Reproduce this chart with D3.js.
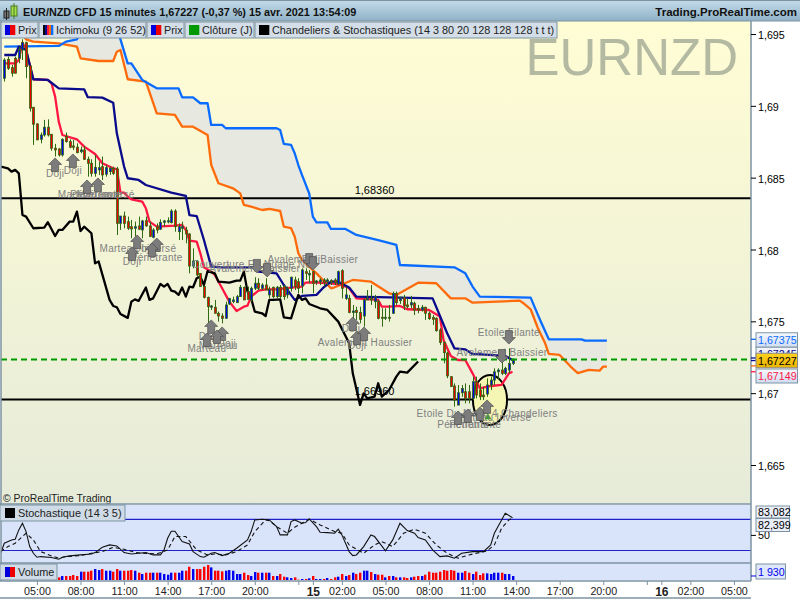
<!DOCTYPE html>
<html><head><meta charset="utf-8">
<style>html,body{margin:0;padding:0;background:#fff}svg{display:block}text{font-family:"Liberation Sans",Arial,sans-serif}</style>
<script src="https://cdnjs.cloudflare.com/ajax/libs/d3/7.8.5/d3.min.js"></script>
</head><body><svg id="c" width="800" height="600"></svg>
<script>
// ---- DATA ----
const candleOpen=[1.69192,1.69324,1.69266,1.69331,1.69331,1.69389,1.6944,1.69278,1.6899,1.68874,1.68767,1.68797,1.68851,1.68802,1.68705,1.687,1.68658,1.68786,1.68751,1.68721,1.68712,1.68681,1.68693,1.68628,1.686,1.6853,1.68554,1.68577,1.68524,1.68542,1.68565,1.68561,1.68182,1.68233,1.68194,1.68159,1.68148,1.68164,1.68136,1.68201,1.68164,1.68085,1.68159,1.68141,1.68189,1.68192,1.68187,1.68268,1.68124,1.68148,1.68136,1.68108,1.67885,1.67916,1.67834,1.67742,1.67667,1.67598,1.67598,1.67556,1.67537,1.67521,1.67621,1.67637,1.6763,1.67672,1.67737,1.67707,1.67649,1.6773,1.67765,1.6773,1.67753,1.67684,1.67737,1.67672,1.67737,1.67742,1.67684,1.6773,1.67788,1.67776,1.67746,1.67846,1.67823,1.67846,1.67772,1.67776,1.67788,1.67776,1.67783,1.67788,1.6776,1.67853,1.6766,1.6766,1.67561,1.67575,1.67561,1.67537,1.67649,1.6766,1.67637,1.67637,1.67528,1.67521,1.67528,1.67556,1.67695,1.67644,1.67665,1.67614,1.67614,1.67626,1.67591,1.67579,1.67598,1.67556,1.67526,1.67521,1.6744,1.67352,1.67278,1.67115,1.6705,1.66917,1.67003,1.6701,1.6701,1.66964,1.6708,1.67022,1.66987,1.66994,1.67057,1.67091,1.67149,1.67161,1.67138,1.67161,1.67207];
const candleClose=[1.69319,1.69261,1.69227,1.69227,1.69389,1.6944,1.69273,1.68983,1.68872,1.68763,1.68797,1.68851,1.68797,1.68705,1.68693,1.68658,1.68767,1.68751,1.68712,1.68712,1.68674,1.68693,1.68628,1.686,1.6853,1.68572,1.6857,1.68519,1.6857,1.68565,1.6853,1.68182,1.68233,1.68182,1.68148,1.68143,1.68159,1.68141,1.68199,1.68164,1.6809,1.68136,1.68136,1.68189,1.68199,1.68201,1.68268,1.68159,1.68159,1.68159,1.68108,1.67885,1.6792,1.67823,1.67742,1.67667,1.67602,1.67607,1.67556,1.67537,1.67521,1.67614,1.6766,1.67649,1.67672,1.67737,1.67649,1.67653,1.6773,1.67765,1.6773,1.67753,1.67718,1.67723,1.67672,1.67737,1.67672,1.67672,1.6773,1.67807,1.67742,1.6773,1.67858,1.67834,1.67834,1.67765,1.67781,1.67788,1.67769,1.67788,1.67774,1.67769,1.67846,1.6773,1.67684,1.67561,1.67572,1.67561,1.67514,1.67649,1.6766,1.67649,1.67672,1.67521,1.67521,1.67528,1.67521,1.67695,1.6763,1.67663,1.67607,1.67602,1.6763,1.67579,1.67579,1.67598,1.67556,1.67519,1.67514,1.67435,1.67352,1.67282,1.6712,1.67046,1.66952,1.67003,1.67033,1.66964,1.66964,1.6708,1.66987,1.66975,1.66975,1.67057,1.67091,1.67149,1.67161,1.67138,1.67173,1.67207,1.67227];
const candleHigh=[1.69331,1.69343,1.69285,1.69343,1.69412,1.69463,1.69447,1.69278,1.6899,1.68879,1.68814,1.68902,1.68906,1.68802,1.68735,1.68705,1.68774,1.68814,1.68767,1.68763,1.68739,1.68716,1.68721,1.68647,1.68628,1.68658,1.68612,1.68647,1.68589,1.68577,1.68577,1.68575,1.68233,1.68264,1.68229,1.68206,1.68194,1.68229,1.68206,1.68229,1.68194,1.68148,1.68182,1.6821,1.68206,1.68224,1.6828,1.6828,1.68182,1.68194,1.68159,1.68113,1.68008,1.67927,1.67834,1.67746,1.67672,1.67614,1.67649,1.67568,1.67556,1.67637,1.6766,1.67672,1.67684,1.67753,1.67742,1.67742,1.67742,1.67807,1.678,1.67765,1.678,1.67742,1.67742,1.67746,1.67753,1.67753,1.67742,1.67811,1.67811,1.678,1.67869,1.67869,1.67858,1.67846,1.67788,1.678,1.678,1.678,1.67793,1.678,1.67853,1.67862,1.67742,1.67684,1.67614,1.67602,1.67602,1.6766,1.67718,1.67753,1.67684,1.67649,1.67591,1.67591,1.67614,1.67707,1.67707,1.67672,1.67684,1.6766,1.67677,1.67637,1.67614,1.67614,1.67602,1.67568,1.67544,1.67528,1.67452,1.67359,1.67289,1.67115,1.67068,1.67057,1.67057,1.67068,1.67057,1.67115,1.67115,1.67068,1.67045,1.67103,1.67115,1.67173,1.67173,1.67254,1.67184,1.67312,1.67242];
const candleLow=[1.69169,1.6925,1.69203,1.69227,1.69296,1.69319,1.69192,1.6896,1.68728,1.68763,1.68739,1.68786,1.68786,1.68688,1.68647,1.68647,1.68647,1.68744,1.68705,1.68693,1.6867,1.6867,1.68623,1.68507,1.68507,1.68507,1.68519,1.68484,1.68507,1.68519,1.68519,1.68101,1.68136,1.68148,1.68136,1.68078,1.6809,1.68136,1.68078,1.68159,1.6809,1.68078,1.68113,1.68136,1.68159,1.68182,1.68182,1.68124,1.68066,1.68066,1.68043,1.67834,1.67869,1.67811,1.67742,1.6766,1.67486,1.67579,1.67556,1.67498,1.67486,1.67521,1.67614,1.67626,1.6763,1.67672,1.67649,1.6766,1.67637,1.67718,1.67718,1.67718,1.67718,1.6766,1.6766,1.6766,1.6766,1.67649,1.6766,1.67707,1.67718,1.67695,1.67695,1.67788,1.67765,1.67695,1.67753,1.67753,1.67742,1.67753,1.67753,1.67753,1.67753,1.6766,1.67649,1.67556,1.67521,1.6751,1.67486,1.67463,1.67649,1.67614,1.67591,1.67514,1.67463,1.6751,1.67498,1.67551,1.67614,1.67621,1.67579,1.67591,1.67591,1.67544,1.67556,1.67568,1.6751,1.6751,1.67475,1.67428,1.67336,1.67208,1.67104,1.67046,1.66906,1.66917,1.66975,1.66929,1.66929,1.66952,1.66964,1.66952,1.66952,1.66975,1.67022,1.67057,1.67091,1.67126,1.67126,1.67138,1.67196];
const volumeValues=[2000,2400,2400,1900,2200,2000,1800,3000,3400,3000,2400,2000,2200,1900,1600,1280,1920,1920,1920,2400,1920,4000,4000,4000,4480,5280,4800,5280,4480,4480,4000,5280,4480,4480,4480,4800,4480,3520,2880,3520,3520,3520,3520,3520,2880,2560,3520,3520,3520,4480,4480,6400,5280,5280,5280,6400,7200,6080,4480,4480,4160,4480,4800,4480,2880,2880,3520,2400,1920,3840,3520,3520,3520,3520,1920,1920,2880,1600,1280,960,1280,160,480,480,800,1920,480,480,480,960,480,1280,1600,2880,1920,2400,3520,2880,3520,4480,4480,3840,2880,2560,2560,1280,1920,1920,1280,1280,1280,960,1280,1600,1920,1920,2560,4000,3520,3520,4000,4800,4480,4800,4480,3520,3520,4320,3520,2880,4000,2400,3200,3200,2880,3520,3520,3520,2880,2880,1930];

const tenkanBars=[0,3,4,5,6,8,12,13,14,15,16,20,22,25,27,30,31,32,33,34,35,38,39,40,42,47,49,50,51,53,54,55,57,58,60,62,64,66,67,68,70,72,75,79,82,83,85,90,93,95,97,103,104,106,109,111,117,120,121,123,125,127,129,131,134,137,139,140];
const tenkanValues=[1.69296,1.69296,1.69319,1.6944,1.69389,1.69185,1.6918,1.69157,1.69064,1.6889,1.68797,1.68767,1.68716,1.68665,1.686,1.68565,1.6856,1.68396,1.68396,1.68368,1.68349,1.68333,1.68287,1.68194,1.68159,1.68166,1.68171,1.68136,1.68062,1.68055,1.67974,1.67876,1.67846,1.67823,1.6773,1.67637,1.67572,1.67602,1.67609,1.67672,1.67714,1.67723,1.67723,1.67735,1.67742,1.6777,1.67772,1.67765,1.67753,1.6773,1.6766,1.67649,1.67602,1.67602,1.67607,1.67584,1.67579,1.67533,1.6737,1.67259,1.67231,1.67231,1.67138,1.67034,1.6705,1.67057,1.67138,1.67149];
const kijunBars=[0,3,4,6,8,12,15,22,23,27,30,31,33,34,37,39,46,50,51,53,55,57,60,69,70,75,77,80,82,86,88,90,92,95,97,118,122,124,127,129,138,140];
const kijunValues=[1.69354,1.69354,1.69412,1.69389,1.69185,1.6918,1.69122,1.69115,1.6906,1.69057,1.69022,1.68809,1.68577,1.68496,1.68484,1.68449,1.68396,1.68373,1.6824,1.68233,1.68066,1.67881,1.67876,1.67876,1.67846,1.67834,1.67753,1.67649,1.67677,1.67684,1.67737,1.67776,1.67776,1.67735,1.67672,1.6766,1.67417,1.67312,1.67305,1.67273,1.67259,1.67231];
const senkouABars=[5,6,8,15,20,21,26,30,31,32,34,39,42,47,49,52,56,57,59,63,65,66,68,71,73,76,77,79,80,81,82,86,90,91,96,101,106,108,114,119,123,127,129,142,143,145,147,149,150,153,156,158,161,164,165,166];
const senkouAValues=[1.695,1.69463,1.69447,1.69435,1.69412,1.69331,1.69312,1.69312,1.69377,1.69389,1.69185,1.69169,1.68948,1.68937,1.68855,1.68855,1.68797,1.68589,1.68461,1.68426,1.68391,1.6831,1.68298,1.68275,1.68282,1.68268,1.68159,1.68148,1.6809,1.67974,1.67927,1.67834,1.6773,1.67737,1.67788,1.67776,1.67695,1.67684,1.67769,1.67765,1.6766,1.6766,1.6763,1.67644,1.67626,1.67584,1.67452,1.67347,1.67273,1.67266,1.67185,1.67139,1.67162,1.67157,1.67185,1.67185];
const senkouBBars=[0,15,17,20,22,31,32,34,35,38,42,48,49,52,54,56,57,60,61,68,75,76,77,79,80,81,82,84,85,86,89,90,94,97,103,108,109,124,127,129,131,145,147,148,150,159,160,166];
const senkouBValues=[1.69412,1.69417,1.69447,1.69463,1.6955,1.6955,1.69463,1.69296,1.69296,1.6918,1.69122,1.69122,1.69059,1.69059,1.69018,1.69018,1.68867,1.68867,1.68844,1.68844,1.68844,1.68832,1.68735,1.68728,1.6867,1.68588,1.68519,1.6839,1.68229,1.68189,1.68189,1.68143,1.68143,1.68101,1.68066,1.68032,1.67892,1.67876,1.67834,1.67742,1.67672,1.67665,1.67545,1.67487,1.67375,1.67375,1.67366,1.67366];
const chikouBars=[-1,1,2,3,4,5,6,8,11,12,14,15,16,18,19,20,21,22,24,25,26,29,30,31,32,34,35,36,37,39,40,41,43,44,45,46,47,48,49,50,51,52,53,54,55,56,58,59,62,64,65,66,67,68,69,71,72,73,74,76,77,79,81,82,83,84,87,89,92,95,96,98,99,100,102,103,104,106,108,109,111,114];
const chikouValues=[1.68577,1.68565,1.68542,1.68554,1.6853,1.68240,1.68229,1.68148,1.68152,1.6819,1.68094,1.68136,1.68136,1.68194,1.68194,1.68264,1.68129,1.68159,1.68113,1.67904,1.67916,1.67649,1.67607,1.67598,1.67551,1.67524,1.67637,1.67653,1.67642,1.67735,1.67649,1.6766,1.6776,1.67742,1.6776,1.67714,1.67707,1.67684,1.67735,1.67672,1.67742,1.67737,1.678,1.67811,1.67753,1.6785,1.67834,1.67776,1.67769,1.67783,1.67783,1.67846,1.67707,1.6766,1.67568,1.67556,1.67537,1.67649,1.67649,1.67653,1.67528,1.67521,1.67684,1.67649,1.6766,1.67621,1.67591,1.67579,1.67498,1.67347,1.67138,1.66918,1.66999,1.66964,1.66976,1.67069,1.66976,1.67022,1.67115,1.6715,1.67143,1.6722];

const stochKBars=[-1,0,2,3,4,5,6,7,8,9,10,13,15,16,18,21,24,25,27,29,31,33,35,37,39,41,43,44,45,46,47,49,51,52,54,55,57,58,60,62,64,67,68,69,71,73,75,76,78,79,80,82,83,84,86,87,89,91,92,93,95,96,97,99,101,102,105,107,109,111,113,114,116,118,120,122,124,126,129,132,134,135,137,138,140];
const stochKValues=[14.7,34,40.3,41.6,59.6,72.4,56.4,27.5,14.7,7,8.3,6.4,3.2,7,9.6,11.5,13.4,16,26.3,30.7,28.8,16,13.4,14.7,16,11.5,11.5,21.1,43.5,57,57,37.1,32.7,17.9,8.3,7,14.7,16,10.2,14.7,24.3,40.4,56.4,78.8,80.1,78.8,66,50,50,75.6,78.8,72.4,73.7,80.7,66,55.1,54.4,53.2,60.9,50,17.9,10.2,11.5,27.5,50,46.8,19.2,40.4,72.4,58.3,53.2,44.8,40.4,21.1,8.3,9.6,5.1,14.7,17.9,17.9,30.7,53.2,78.8,91.6,83.08];
const stochDBars=[-1,1,3,6,8,10,13,15,17,21,24,27,30,33,36,38,42,45,47,50,53,56,58,61,64,67,69,72,73,75,78,80,82,84,87,91,93,95,99,102,104,107,110,113,116,119,122,125,128,133,135,137,139,140];
const stochDValues=[17.9,27.5,34,53.2,40.4,17.9,9.6,5.1,8.3,10.2,14.7,17.9,26.3,22.4,16.6,14.7,13.4,21.1,46.8,46.8,21.1,11.5,13.4,11.5,17.9,30.7,56.4,78.8,77.5,66,53.2,64.7,72.4,80.1,69.2,56.4,53.2,30.7,14.7,30.7,37.1,27.5,53.2,60.9,53.2,30.7,14.7,5.1,11.5,19.2,30.7,62.8,78.8,82.4];

const priceTicks=[1.695,1.69,1.685,1.68,1.675,1.67,1.665];
const priceTickLabels=["1,695","1,69","1,685","1,68","1,675","1,67","1,665"];
const timeTickBars=[9,21,33,45,57,69,81,85,93,105,117,129,141,153,165,177,181,189,201];
const timeTickLabels=["05:00","08:00","11:00","14:00","17:00","20:00","","15","02:00","05:00","08:00","11:00","14:00","17:00","20:00","","16","02:00","05:00"];
const levelValues=[1.6836,1.6696];
const levelLabels=["1,68360","1,66960"];
const levelLabelBar=102;
const lastPrice=1.67227;

const arrowUpBars=[14,18.9,22.8,25.8,36.6,35.2,42,40.7,57,55.8,60,58.6,96,97.2,99.1,125,127.7,131,133];
const arrowUpPrices=[1.68637,1.68665,1.68484,1.68498,1.68101,1.68018,1.6808,1.68045,1.6751,1.67419,1.67461,1.6744,1.6753,1.67433,1.67461,1.66876,1.6689,1.66904,1.66953];
const arrowDownBars=[69.6,72.4,84,85,139,137.1];
const arrowDownPrices=[1.67837,1.67809,1.67878,1.67857,1.67342,1.6721];
const noteBars=[14,18.9,25.3,25.3,25.3,36.8,38.2,35.2,42,69,69,85,84.5,55.8,58.9,56.1,61.3,95.5,99.4,97.2,139,137.1,133,134.6,126.4,129.7];
const notePrices=[1.68526,1.68553,1.6838,1.6838,1.6838,1.68004,1.68004,1.67913,1.67941,1.67899,1.67871,1.67927,1.67927,1.67308,1.67335,1.67391,1.67349,1.67447,1.67356,1.67335,1.67419,1.6728,1.66855,1.66834,1.66779,1.66779];
const noteTexts=["Doji","Doji","Marteau Inversé","Pénétrante","Marteau","Marteau Inversé","Doji","Doji","Pénétrante","Couverture En Nuage Noir","Avalement Baissier","Avalement Baissier","Doji","Marteau","Marteau","Doji","Doji","Doji","Avalement Haussier","Doji","Etoile Filante","Avalement Baissier","Etoile Du Matin 4 Chandeliers","Marteau Inversé","Pénétrante","Pénétrante"];

const legendItems=[
 {t:"Prix",c:["#0000dd","#ee0000"],x0:1,x1:38},
 {t:"Ichimoku (9 26 52)",c:["#000","#0a0a8c","#ff1744","#ff6a00","#0a6cff"],x0:39,x1:146},
 {t:"Prix",c:["#0000dd","#ee0000"],x0:147,x1:184},
 {t:"Clôture (J)",c:["#009900"],x0:185,x1:254},
 {t:"Chandeliers & Stochastiques (14 3 80 20 128 128 128 t t t)",c:["#000"],x0:255,x1:557}];

// ---- SCALES ----
const svg=d3.select("#c");
const x=d3.scaleLinear().domain([0,205]).range([4.3,4.3+3.63*205]);
const y=d3.scaleLinear().domain([1.665,1.695]).range([465,34]);
const yS=d3.scaleLinear().domain([0,100]).range([560.9,508.9]);
const yV=d3.scaleLinear().domain([0,8000]).range([580,563.4]);
const F="#7d93a3", FS=10.7;

const defs=svg.append("defs");
function grad(id,stops){const g=defs.append("linearGradient").attr("id",id).attr("x1",0).attr("y1",0).attr("x2",0).attr("y2",1);
 stops.forEach(s=>g.append("stop").attr("offset",s[0]).attr("stop-color",s[1]));}
grad("gMain",[[0,"#fffdd4"],[1,"#e6ebd9"]]);
grad("gTitle",[[0,"#c4dcea"],[1,"#8fb1c6"]]);
grad("gBox",[[0,"#f6f8fc"],[1,"#cfdcf3"]]);
grad("gGold",[[0,"#ffd21e"],[1,"#eab400"]]);
defs.append("clipPath").attr("id","cpMain").append("rect").attr("x",1).attr("y",21).attr("width",750).attr("height",483);
defs.append("clipPath").attr("id","cpSto").append("rect").attr("x",1).attr("y",505).attr("width",750).attr("height",58);

// panels
svg.append("rect").attr("x",0).attr("y",0).attr("width",800).attr("height",600).attr("fill","#fff");
svg.append("rect").attr("x",1).attr("y",21).attr("width",750).attr("height",483).attr("fill","url(#gMain)");
svg.append("rect").attr("x",1).attr("y",505).attr("width",750).attr("height",75).attr("fill","#d9e4fb");

const main=svg.append("g").attr("clip-path","url(#cpMain)");
main.append("text").attr("x",738).attr("y",75).attr("text-anchor","end").attr("font-size",51).attr("fill","#b4b9a1").text("EURNZD");

// cloud
const zip=(b,v)=>b.map((d,i)=>[d,v[i]]);
const A=zip(senkouABars,senkouAValues),B=zip(senkouBBars,senkouBValues).filter(d=>d[0]>=senkouABars[0]);
const ln=d3.line().x(d=>x(d[0])).y(d=>y(d[1]));
main.append("path").attr("d",ln(A.concat(B.slice().reverse()))+"Z").attr("fill","#e7e8df");

// levels
main.selectAll("line.lv").data(levelValues).join("line").attr("class","lv").attr("x1",1).attr("x2",751).attr("y1",d=>y(d)+.5).attr("y2",d=>y(d)+.5).attr("stroke","#000").attr("stroke-width",2);
main.selectAll("text.lv").data(levelValues).join("text").attr("class","lv").attr("x",x(levelLabelBar)).attr("y",d=>y(d)-4).attr("text-anchor","middle").attr("font-size",11).attr("fill","#000").text((d,i)=>levelLabels[i]);

// ellipse
main.append("ellipse").attr("cx",x(133.8)).attr("cy",y(1.66953)).attr("rx",x(4.7)-x(0)).attr("ry",y(1.66953-.00174)-y(1.66953)).attr("fill","#f6f6b4").attr("stroke","#000").attr("stroke-width",2);

// ichimoku lines
[[zip(senkouABars,senkouAValues),"#ff6a0a"],[zip(senkouBBars,senkouBValues),"#0a6cff"],[zip(tenkanBars,tenkanValues),"#ff1744"],[zip(kijunBars,kijunValues),"#0a0a8c"],[zip(chikouBars,chikouValues),"#000"]].forEach(s=>{
 main.append("path").attr("d",ln(s[0])).attr("fill","none").attr("stroke",s[1]).attr("stroke-width",2.3).attr("stroke-linejoin","round");
});

// candles
const idx=d3.range(candleOpen.length);
main.selectAll("line.w").data(idx).join("line").attr("class","w").attr("x1",i=>Math.round(x(i))+.5).attr("x2",i=>Math.round(x(i))+.5).attr("y1",i=>y(candleHigh[i])).attr("y2",i=>y(candleLow[i])).attr("stroke","#2f6b12").attr("stroke-width",1);
main.selectAll("rect.b").data(idx).join("rect").attr("class","b").attr("x",i=>Math.round(x(i))-.5).attr("width",2)
 .attr("y",i=>y(Math.max(candleOpen[i],candleClose[i]))).attr("height",i=>Math.max(1,Math.abs(y(candleOpen[i])-y(candleClose[i]))))
 .attr("fill",i=>candleClose[i]>=candleOpen[i]?"#0000ee":"#ee0000").attr("stroke","#2f6b12").attr("stroke-width",.8);

// dashed last price
main.append("line").attr("x1",1).attr("x2",751).attr("y1",y(lastPrice)-1).attr("y2",y(lastPrice)-1).attr("stroke","#009900").attr("stroke-width",2).attr("stroke-dasharray","6 4");

// small green marker
main.append("path").attr("d",d3.symbol(d3.symbolTriangle,22)()).attr("transform",`translate(${x(133.2)},${y(1.66832)})`).attr("fill","#1da81d");

// notes
main.selectAll("text.n").data(noteTexts).join("text").attr("class","n").attr("x",(d,i)=>x(noteBars[i])).attr("y",(d,i)=>y(notePrices[i])+3.5).attr("text-anchor","middle").attr("font-size",10).attr("letter-spacing",.3).attr("fill","#808080").text(d=>d);
// arrows
const upShape="M0,0L6.5,6.5L3.5,6.5L3.5,13.5L-3.5,13.5L-3.5,6.5L-6.5,6.5Z";
main.selectAll("path.up").data(arrowUpBars).join("path").attr("class","up").attr("d",upShape).attr("transform",(d,i)=>`translate(${x(d)},${y(arrowUpPrices[i])})`).attr("fill","#7c7c7c").attr("stroke","#505050").attr("stroke-width",.7);
main.selectAll("path.dn").data(arrowDownBars).join("path").attr("class","dn").attr("d",upShape).attr("transform",(d,i)=>`translate(${x(d)},${y(arrowDownPrices[i])}) scale(1,-1)`).attr("fill","#7c7c7c").attr("stroke","#505050").attr("stroke-width",.7);

svg.append("text").attr("x",3).attr("y",502).attr("font-size",10.4).attr("fill","#222").text("© ProRealTime Trading");

// stochastic
const sto=svg.append("g").attr("clip-path","url(#cpSto)");
[80,20].forEach(v=>sto.append("line").attr("x1",1).attr("x2",751).attr("y1",yS(v)).attr("y2",yS(v)).attr("stroke","#2222cc").attr("stroke-width",1.2));
const lnS=d3.line().x(d=>x(d[0])).y(d=>yS(d[1]));
sto.append("path").attr("d",lnS(zip(stochKBars,stochKValues))).attr("fill","none").attr("stroke","#111").attr("stroke-width",1.1);
sto.append("path").attr("d",lnS(zip(stochDBars,stochDValues))).attr("fill","none").attr("stroke","#111").attr("stroke-width",1.1).attr("stroke-dasharray","4 3");

// volume
svg.selectAll("rect.v").data(idx).join("rect").attr("class","v").attr("x",i=>Math.round(x(i))-1).attr("width",2.4).attr("y",i=>yV(volumeValues[i])).attr("height",i=>580-yV(volumeValues[i]))
 .attr("fill",i=>candleClose[i]>=candleOpen[i]?"#0000ee":"#ff0000");

// panel separators
[[0,504,751,504],[0,563,751,563],[0,581,751,581],[751,21,751,581],[1,21,1,581]].forEach(l=>svg.append("line").attr("x1",l[0]).attr("y1",l[1]).attr("x2",l[2]).attr("y2",l[3]).attr("stroke",F).attr("stroke-width",1.5));

// axes
const ay=svg.append("g").attr("transform","translate(751,0)").call(d3.axisRight(y).tickValues(priceTicks).tickFormat((d,i)=>priceTickLabels[i]).tickSize(5).tickPadding(2));
ay.select(".domain").remove();
ay.selectAll("text").attr("font-size",FS).attr("fill","#000").attr("font-family",'"Liberation Sans"').attr("dy","0.42em");
ay.selectAll("line").attr("stroke","#000");
const ax=svg.append("g").attr("transform","translate(0,581)").call(d3.axisBottom(x).tickValues(timeTickBars).tickFormat((d,i)=>timeTickLabels[i]).tickSize(4).tickPadding(2));
ax.select(".domain").remove();
ax.selectAll("line").attr("stroke",F);
ax.selectAll("text").attr("fill","#222").attr("font-family",'"Liberation Sans"').attr("font-weight",(d,i)=>/^1[56]$/.test(timeTickLabels[i])?"bold":"normal").attr("font-size",(d,i)=>/^1[56]$/.test(timeTickLabels[i])?12:FS);

svg.append("line").attr("x1",0).attr("x2",751).attr("y1",598).attr("y2",598).attr("stroke",F).attr("stroke-width",1.5);

// stochastic axis tick
const as=svg.append("g").attr("transform","translate(751,0)").call(d3.axisRight(yS).tickValues([50]).tickFormat(d=>String(d)).tickSize(5).tickPadding(2));
as.select(".domain").remove();
as.selectAll("text").attr("font-size",FS).attr("fill","#000").attr("font-family",'"Liberation Sans"');
as.selectAll("line").attr("stroke","#000");

// value boxes
function box(text,yc,color,fill,stroke,x0,w,h){
 svg.append("rect").attr("x",x0).attr("y",yc-h/2).attr("width",w).attr("height",h).attr("fill",fill).attr("stroke",stroke||F);
 svg.append("text").attr("x",x0+2).attr("y",yc+4).attr("font-size",FS).attr("fill",color).text(text);
}
[[1.67375,"#0a6cff"],[1.67245,"#0a0a8c"],[1.67227,"#0a0a8c"],[1.67190,"#ff6a0a"],[1.67149,"#ff1744"]].forEach(d=>{
 svg.append("line").attr("x1",751).attr("x2",756).attr("y1",y(d[0])).attr("y2",y(d[0])).attr("stroke",d[1]).attr("stroke-width",1.3);
});
box("1,67375",340,"#0a6cff","url(#gBox)",null,756,41.5,14.5);
box("1,67245",354,"#0a0a8c","url(#gBox)",null,756,41.5,13.5);
box("1,67149",376,"#ff1744","url(#gBox)",null,756,41.5,14);
box("1,67227",360.5,"#000","url(#gGold)","#8a8a8a",756,41.5,14.5);
box("83,082",512,"#000","#e9eef9",null,756,33.5,12);
box("82,399",525,"#000","#e9eef9",null,756,33.5,13);
box("1 930",571.5,"#0000ee","#dfe8fb",null,756,29.5,15);
svg.append("line").attr("x1",751).attr("x2",756).attr("y1",yV(1930)).attr("y2",yV(1930)).attr("stroke","#0000ee");

// legend boxes in sub panels
[[0,505,125,16,"Stochastique (14 3 5)",["#000"]],[0,564,57,16,"Volume",["#0000dd","#ee0000"]]].forEach(d=>{
 svg.append("rect").attr("x",d[0]).attr("y",d[1]).attr("width",d[2]).attr("height",d[3]).attr("fill","#cfdbe6").attr("stroke",F);
 d[5].forEach((c,i)=>svg.append("rect").attr("x",5+i*5).attr("y",d[1]+3).attr("width",d[5].length>1?5:10).attr("height",10).attr("fill",c));
 svg.append("text").attr("x",18).attr("y",d[1]+12).attr("font-size",10.9).attr("fill","#222").text(d[4]);
});

// title bar
svg.append("rect").attr("x",0).attr("y",0).attr("width",800).attr("height",21).attr("fill","url(#gTitle)");
svg.append("line").attr("x1",0).attr("x2",800).attr("y1",.5).attr("y2",.5).attr("stroke","#7d93a3");
svg.append("line").attr("x1",0).attr("x2",800).attr("y1",21).attr("y2",21).attr("stroke","#7d93a3");
svg.append("rect").attr("x",4).attr("y",11).attr("width",5).attr("height",7).attr("fill","#777").attr("stroke","#222");
svg.append("line").attr("x1",6.5).attr("x2",6.5).attr("y1",8).attr("y2",20).attr("stroke","#222");
svg.append("rect").attr("x",11).attr("y",6).attr("width",6).attr("height",10).attr("fill","#a5e04a").attr("stroke","#4a7a20");
svg.append("line").attr("x1",14).attr("x2",14).attr("y1",3).attr("y2",19).attr("stroke","#4a7a20");
svg.append("text").attr("x",23).attr("y",16).attr("font-size",10.85).attr("font-weight","bold").attr("fill","#111").text("EUR/NZD CFD 15 minutes 1,67227 (-0,37 %) 15 avr. 2021 13:54:09");
svg.append("text").attr("x",797).attr("y",16).attr("text-anchor","end").attr("font-size",11.5).attr("font-weight","bold").attr("fill","#111").text("Trading.ProRealTime.com");

// legend bar
legendItems.forEach(it=>{
 svg.append("rect").attr("x",it.x0).attr("y",22).attr("width",it.x1-it.x0).attr("height",16).attr("fill","#d3dee8").attr("stroke",F);
 const w=10/it.c.length;
 it.c.forEach((c,i)=>svg.append("rect").attr("x",it.x0+4+i*w).attr("y",25).attr("width",w+.3).attr("height",10).attr("fill",c));
 svg.append("text").attr("x",it.x0+17).attr("y",34).attr("font-size",10.85).attr("fill","#222").text(it.t);
});
</script></body></html>
